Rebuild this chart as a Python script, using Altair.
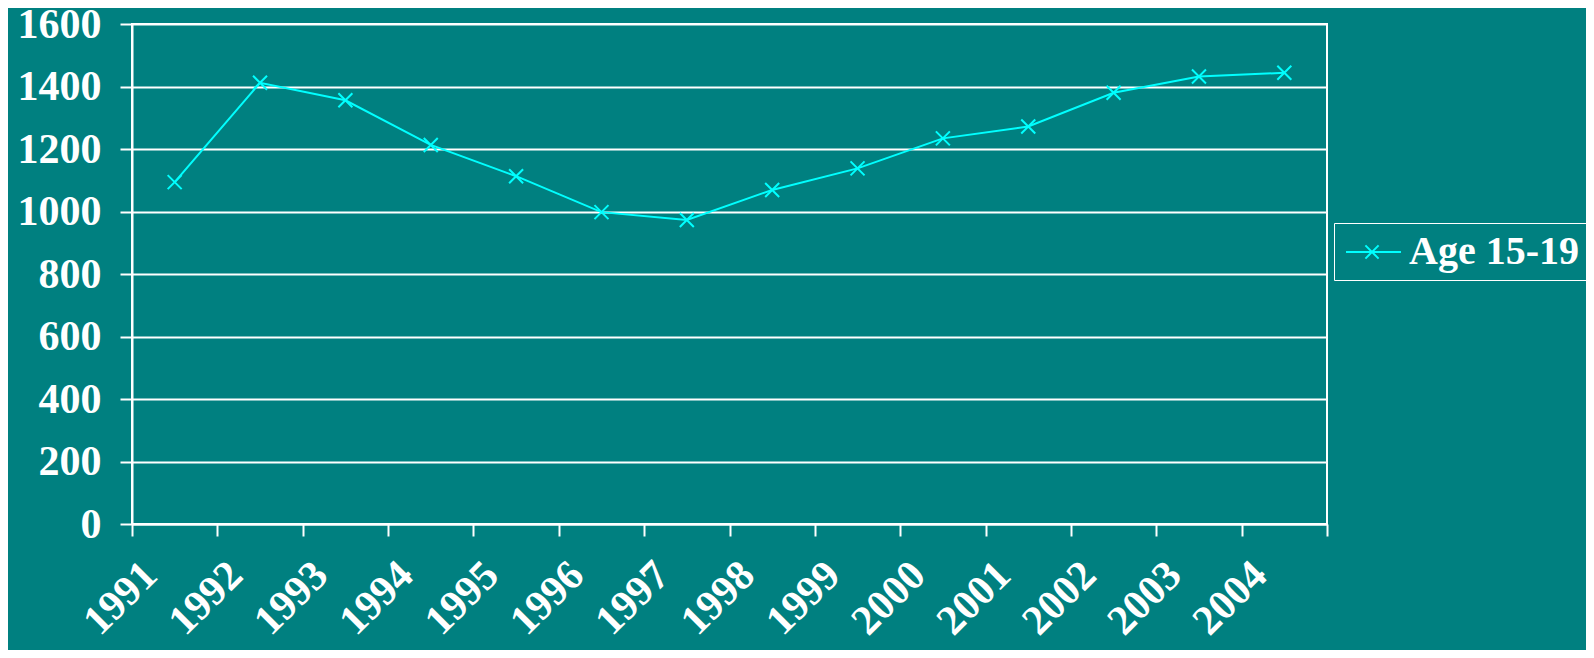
import altair as alt
import pandas as pd

years = ["1991", "1992", "1993", "1994", "1995", "1996", "1997",
         "1998", "1999", "2000", "2001", "2002", "2003", "2004"]
values = [1094, 1412, 1356, 1213, 1113, 998, 973,
          1069, 1138, 1234, 1272, 1380, 1432, 1444]
series = ["Age 15-19"] * len(years)
y_ticks = [0, 200, 400, 600, 800, 1000, 1200, 1400, 1600]

df = pd.DataFrame({"year": years, "value": values, "series": series})

FONT = "Liberation Serif"
CYAN = "#00FFFF"
XPATH = "M-1,-1L1,1M-1,1L1,-1"
LEGEND_PATH = "M-0.85,0H1.9M0.12,-0.33L0.78,0.33M0.12,0.33L0.78,-0.33"

x_enc = alt.X(
    "year:N",
    sort=years,
    bandPosition=0.5,
    scale=alt.Scale(type="band", paddingInner=0, paddingOuter=0),
    axis=alt.Axis(
        title=None,
        tickBand="extent",
        grid=False,
        labelAngle=-45,
        labelAlign="right",
        labelBaseline="middle",
        labelPadding=32,
        labelOffset=-25,
        tickSize=12,
        labelFont=FONT,
        labelFontSize=42,
        labelFontWeight="bold",
        labelColor="white",
        domainColor="white",
        domainWidth=2,
        tickColor="white",
        tickWidth=2,
        labelOverlap=False,
        labelBound=False,
    ),
)
y_enc = alt.Y(
    "value:Q",
    scale=alt.Scale(domain=[0, 1600], nice=False),
    axis=alt.Axis(
        title=None,
        values=y_ticks,
        format="d",
        grid=True,
        gridColor="white",
        gridWidth=2,
        gridOpacity=1,
        tickSize=12,
        labelPadding=19,
        labelFont=FONT,
        labelFontSize=42,
        labelFontWeight="bold",
        labelColor="white",
        domainColor="white",
        domainWidth=2,
        tickColor="white",
        tickWidth=2,
    ),
)
color_enc = alt.Color(
    "series:N",
    scale=alt.Scale(range=[CYAN]),
    legend=alt.Legend(
        title=None,
        orient="none",
        legendX=1202,
        legendY=199,
        strokeColor="white",
        padding=8,
        symbolType=LEGEND_PATH,
        symbolSize=1600,
        symbolStrokeColor=CYAN,
        symbolFillColor="transparent",
        symbolStrokeWidth=2,
        labelOffset=25,
        labelLimit=0,
        labelFont=FONT,
        labelFontSize=40,
        labelFontWeight="bold",
        labelColor="white",
    ),
)

line = alt.Chart(df).mark_line(color=CYAN, strokeWidth=2).encode(
    x=x_enc, y=y_enc, color=color_enc
)
points = alt.Chart(df).mark_point(
    shape=XPATH, size=196, filled=False, strokeWidth=2, opacity=1
).encode(
    x=x_enc,
    y=y_enc,
    color=alt.Color("series:N", scale=alt.Scale(range=[CYAN]), legend=None),
)

chart = (
    alt.layer(line, points)
    .properties(
        width=1195,
        height=500,
        background="#008080",
        autosize=alt.AutoSizeParams(type="none"),
        padding={"left": 124, "top": 16, "right": 259, "bottom": 126},
    )
    .configure_view(stroke="white", strokeWidth=2)
)

chart.save("out.html", embed_options={"renderer": "svg", "actions": False})
